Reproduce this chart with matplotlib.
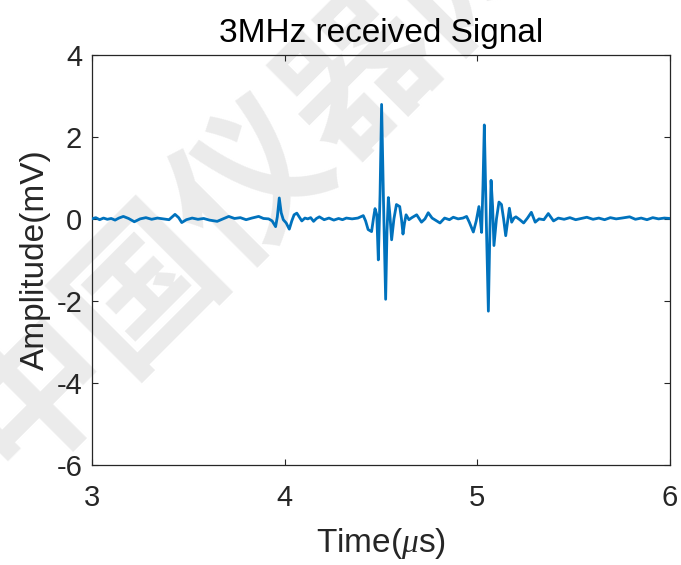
import matplotlib
matplotlib.use('Agg')
import matplotlib.pyplot as plt

plt.rcParams['font.family'] = ['Liberation Sans', 'DejaVu Sans']
plt.rcParams['axes.unicode_minus'] = False
plt.rcParams['mathtext.fontset'] = 'custom'
plt.rcParams['mathtext.it'] = 'Liberation Serif:italic'

# 수신 신호 (읽어낸 값)
time_us = [
    3.00, 3.02, 3.04, 3.06, 3.08, 3.10, 3.12, 3.14, 3.163, 3.19,
    3.22, 3.25, 3.28, 3.31, 3.34, 3.37, 3.40, 3.431, 3.45, 3.466,
    3.49, 3.52, 3.55, 3.58, 3.61, 3.65, 3.68, 3.71, 3.74, 3.77,
    3.80, 3.83, 3.865, 3.89, 3.917, 3.935, 3.953, 3.962, 3.972, 3.982,
    3.993, 4.008, 4.024, 4.037, 4.049, 4.063, 4.077, 4.089, 4.105, 4.12,
    4.135, 4.15, 4.165, 4.18, 4.205, 4.23, 4.255, 4.28, 4.30, 4.32,
    4.35, 4.38, 4.408, 4.42, 4.433, 4.451, 4.462, 4.469, 4.478, 4.486,
    4.495, 4.503, 4.513, 4.524, 4.531, 4.538, 4.546, 4.555, 4.567, 4.58,
    4.597, 4.606, 4.614, 4.622, 4.63, 4.645, 4.66, 4.685, 4.71, 4.728,
    4.745, 4.765, 4.785, 4.806, 4.83, 4.855, 4.875, 4.90, 4.925, 4.944,
    4.958, 4.979, 4.994, 5.008, 5.015, 5.022, 5.029, 5.036, 5.046, 5.057,
    5.064, 5.071, 5.079, 5.086, 5.099, 5.112, 5.125, 5.136, 5.147, 5.157,
    5.166, 5.178, 5.19, 5.20, 5.22, 5.24, 5.26, 5.28, 5.30, 5.32,
    5.345, 5.368, 5.395, 5.42, 5.45, 5.48, 5.51, 5.54, 5.568, 5.60,
    5.63, 5.66, 5.69, 5.72, 5.75, 5.79, 5.82, 5.85, 5.88, 5.91,
    5.94, 5.97, 6.00,
]
amplitude_mv = [
    0.00, 0.03, -0.02, 0.02, -0.01, 0.01, -0.03, 0.02, 0.06, 0.01,
    -0.07, 0.00, 0.03, -0.01, 0.02, 0.00, -0.02, 0.11, 0.03, -0.09,
    -0.02, 0.02, -0.01, 0.01, -0.03, -0.06, 0.00, 0.06, 0.01, 0.03,
    -0.02, 0.02, 0.06, 0.01, 0.00, -0.05, -0.19, 0.05, 0.51, 0.15,
    -0.02, -0.10, -0.25, -0.05, 0.10, 0.14, 0.04, -0.05, 0.02, 0.00,
    0.03, -0.06, 0.01, 0.05, -0.02, 0.02, -0.03, 0.01, -0.02, 0.02,
    0.00, 0.02, 0.08, -0.05, -0.26, -0.31, 0.05, 0.25, 0.10, -1.00,
    0.60, 2.79, 0.40, -1.96, -0.30, 0.52, 0.10, -0.51, 0.00, 0.35,
    0.30, 0.00, -0.37, -0.10, 0.10, -0.02, 0.03, 0.10, -0.08, 0.00,
    0.15, 0.02, -0.04, -0.10, 0.02, -0.02, 0.04, 0.00, 0.02, 0.06,
    -0.08, -0.32, -0.05, 0.30, 0.00, -0.33, 0.80, 2.29, 0.00, -2.25,
    -0.50, 0.94, 0.30, -0.65, 0.00, 0.41, 0.35, 0.00, -0.41, -0.05,
    0.26, -0.08, 0.02, 0.05, -0.02, -0.10, 0.02, 0.16, -0.08, 0.00,
    -0.02, 0.13, -0.05, 0.02, -0.01, 0.03, -0.02, 0.01, 0.04, -0.01,
    0.02, -0.02, 0.03, 0.00, 0.02, 0.05, -0.01, 0.02, -0.02, 0.03,
    0.00, 0.02, 0.01,
]
assert len(time_us) == len(amplitude_mv)

x_ticks = [3, 4, 5, 6]
y_ticks = [-6, -4, -2, 0, 2, 4]

fig = plt.figure(figsize=(6.81, 5.65), dpi=100)
ax = fig.add_axes([0.135, 0.177, 0.849, 0.726])

# 워터마크
ax.text(0.37, 0.685, '中国仪器网', transform=fig.transFigure, rotation=45,
        ha='center', va='center', fontsize=110, color='#ebebeb',
        family=['Noto Sans CJK SC', 'DejaVu Sans'], weight='bold',
        zorder=0, clip_on=False)

ax.plot(time_us, amplitude_mv, color='#0072BD', linewidth=2.0, zorder=3)

ax.set_xlim(3, 6)
ax.set_ylim(-6, 4)
ax.set_xticks(x_ticks)
ax.set_yticks(y_ticks)
ax.tick_params(direction='in', length=4, width=0.8, top=True, right=True,
               labelsize=21, colors='#262626')
ax.tick_params(axis='x', pad=14)
ax.tick_params(axis='y', pad=7)
ax.set_facecolor('none')
for s in ax.spines.values():
    s.set_color('#262626')
    s.set_linewidth(0.9)

ax.set_title('3MHz received Signal', fontsize=24, color='#000000', pad=9)
ax.set_xlabel(r'Time($\mu$s)', fontsize=24, color='#262626', labelpad=10)
ax.set_ylabel('Amplitude(mV)', fontsize=24, color='#262626', labelpad=4)

plt.savefig('out.png', dpi=100)
